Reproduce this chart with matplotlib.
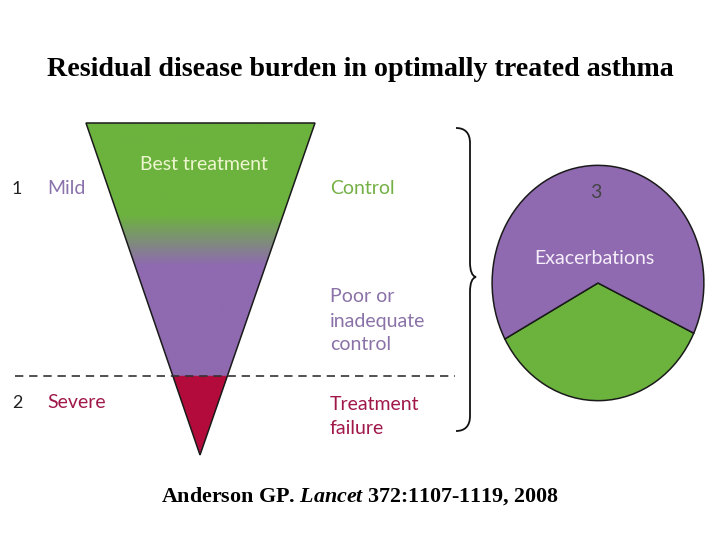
"""Residual disease burden in optimally treated asthma (Anderson 2008)"""
import numpy as np
import matplotlib
matplotlib.use("Agg")
import matplotlib.pyplot as plt
from matplotlib.patches import Polygon, PathPatch
from matplotlib.path import Path

# ---- data ----
severity_numbers = ["1", "2"]
severity_labels = ["Mild", "Severe"]
outcome_labels = ["Control", "Poor or\ninadequate\ncontrol", "Treatment\nfailure"]
# depth of the funnel (0 = top, 1 = tip) where each zone starts / ends
green_end = 0.277      # solid green down to here
purple_start = 0.428   # fully purple from here
red_start = 0.762      # treatment failure below the dashed line
# share of exacerbations: controlled (green) vs poorly controlled (purple)
pie_values = [35.1, 64.9]
pie_colors = ["#6cb33e", "#8f6ab0"]

GREEN = np.array([0x6c, 0xb3, 0x3e]) / 255
PURPLE = np.array([0x8f, 0x6a, 0xb0]) / 255
RED = np.array([0xb3, 0x0b, 0x3c]) / 255

plt.rcParams["font.family"] = ["Lato", "DejaVu Sans"]
plt.rcParams["mathtext.fontset"] = "custom"
plt.rcParams["mathtext.rm"] = "Liberation Serif:bold"
plt.rcParams["mathtext.it"] = "Liberation Serif:italic:bold"

fig = plt.figure(figsize=(7.2, 5.4), dpi=100)
ax = fig.add_axes([0, 0, 1, 1])
ax.set_xlim(0, 720)
ax.set_ylim(540, 0)
ax.axis("off")
ax.set_zorder(2)  # labels on top of the pie axes

# -------- funnel --------
top_y, left_x, right_x = 123, 86, 315
tip_x, tip_y = 200, 455
depth = np.linspace(0, 1, 600)
t = np.clip((depth - green_end) / (purple_start - green_end), 0, 1)
cols = GREEN[None, :] * (1 - t[:, None]) + PURPLE[None, :] * t[:, None]
cols[depth >= red_start] = RED
img = cols[:, None, :]

tri = Polygon([(left_x, top_y), (right_x, top_y), (tip_x, tip_y)], closed=True,
              facecolor="none", edgecolor="#1a1a1a", lw=1.1, zorder=3)
ax.add_patch(tri)
im = ax.imshow(img, extent=(left_x, right_x, tip_y, top_y), aspect="auto",
               interpolation="bilinear", zorder=2)
im.set_clip_path(tri)

# dashed severity line
dash_y = top_y + red_start * (tip_y - top_y)
ax.plot([15, 455], [dash_y, dash_y], color="#333333", lw=1.2,
        linestyle=(0, (5, 3.5)), zorder=4)

# -------- left / right labels --------
ax.text(12, 189, severity_numbers[0], fontsize=13, color="#222222", va="center")
ax.text(47, 189, severity_labels[0], fontsize=14, color="#8a72ac", va="center")
ax.text(12, 403, severity_numbers[1], fontsize=13, color="#222222", va="center")
ax.text(47, 403, severity_labels[1], fontsize=14, color="#a0184a", va="center")

ax.text(204, 165, "Best treatment", fontsize=14, color="#eef6cf",
        ha="center", va="center", zorder=5)

ax.text(330, 189, outcome_labels[0], fontsize=14, color="#74b045", va="center")
ax.text(330, 321, outcome_labels[1], fontsize=14, color="#8a72a8", va="center",
        linespacing=1.5)
ax.text(330, 416, outcome_labels[2], fontsize=14, color="#a0184a", va="center",
        linespacing=1.5)

# -------- brace --------
brace = Path(
    [(456, 128), (465, 128), (470, 133), (470, 143),
     (470, 262),
     (470, 271), (472, 276), (476, 277),
     (472, 278), (470, 283), (470, 292),
     (470, 416),
     (470, 426), (465, 431), (456, 431)],
    [Path.MOVETO, Path.CURVE4, Path.CURVE4, Path.CURVE4,
     Path.LINETO,
     Path.CURVE4, Path.CURVE4, Path.CURVE4,
     Path.CURVE4, Path.CURVE4, Path.CURVE4,
     Path.LINETO,
     Path.CURVE4, Path.CURVE4, Path.CURVE4])
ax.add_patch(PathPatch(brace, facecolor="none", edgecolor="#111111", lw=1.3))

# -------- exacerbation pie (elliptical) --------
ex0, ex1, ey0, ey1 = 490, 706, 163, 403
pad = 1.02
pax = fig.add_axes([ex0 / 720, 1 - ey1 / 540, (ex1 - ex0) / 720, (ey1 - ey0) / 540])
pax.set_zorder(1)
pax.pie(pie_values, colors=pie_colors, startangle=208.4, counterclock=True,
        wedgeprops=dict(edgecolor="#1a1a1a", linewidth=1.1))
pax.set_aspect("auto")
pax.set_xlim(-pad, pad)
pax.set_ylim(-pad, pad)
pax.axis("off")
ax.text(596, 192, "3", fontsize=14, color="#444444", ha="center", va="center", zorder=6)
ax.text(594, 258, "Exacerbations", fontsize=14, color="#f6eefa",
        ha="center", va="center", zorder=6)

# -------- title and citation --------
ax.text(360, 70, "Residual disease burden in optimally treated asthma",
        family="Liberation Serif", fontweight="bold", fontsize=20.2,
        ha="center", va="center")
ax.text(360, 496, r"Anderson GP. $\mathit{Lancet}$ 372:1107-1119, 2008",
        family="Liberation Serif", fontweight="bold", fontsize=15.8,
        ha="center", va="center")

fig.savefig("out.png", dpi=100)
